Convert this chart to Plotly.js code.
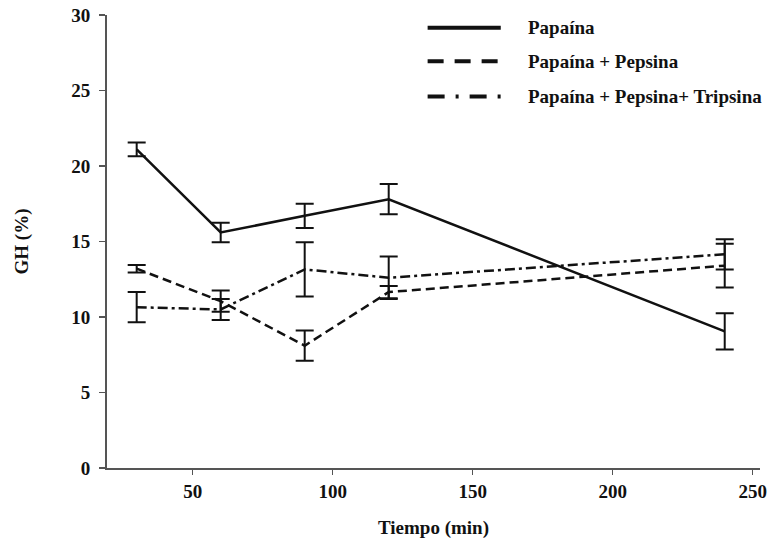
<!DOCTYPE html>
<html>
<head>
<meta charset="utf-8">
<script src="https://cdn.plot.ly/plotly-3.0.1.min.js"></script>
<style>html,body{margin:0;padding:0;background:#fff}#chart{width:772px;height:542px}</style>
</head>
<body>
<div id="chart"></div>
<script>
// Data
var tiempo = [30, 60, 90, 120, 240];
var papaina = [21.1, 15.6, 16.7, 17.8, 9.05];
var papainaErr = [0.45, 0.65, 0.8, 1.0, 1.2];
var papPep = [13.2, 11.05, 8.1, 11.65, 13.4];
var papPepErr = [0.25, 0.7, 1.0, 0.4, 1.45];
var papPepTrip = [10.65, 10.5, 13.15, 12.6, 14.15];
var papPepTripErr = [1.0, 0.7, 1.8, 1.4, 1.0];
var seriesNames = ['Papaína', 'Papaína + Pepsina', 'Papaína + Pepsina+ Tripsina'];
var yTicks = [0, 5, 10, 15, 20, 25, 30];
var xTicks = [50, 100, 150, 200, 250];

var fontFam = '"Liberation Serif", "Times New Roman", serif';

function mk(y, err, dash, name) {
  return {
    x: tiempo, y: y, name: name, type: 'scatter', mode: 'lines',
    line: {color: '#111', width: 2.5, dash: dash},
    error_y: {type: 'data', array: err, visible: true, color: '#111', thickness: 2, width: 9},
    showlegend: false
  };
}

var traces = [
  mk(papaina, papainaErr, 'solid', seriesNames[0]),
  mk(papPep, papPepErr, '9px,5px', seriesNames[1]),
  mk(papPepTrip, papPepTripErr, '10px,4px,3px,4px', seriesNames[2])
];

// Manual legend (lines + text)
var legY = [0.972, 0.898, 0.820];
var legDash = ['solid', '16px,11px', '17px,11px,3px,11px'];
var shapes = [];
var annotations = [];
for (var i = 0; i < 3; i++) {
  shapes.push({type: 'line', xref: 'paper', yref: 'paper', x0: 0.491, x1: 0.603, y0: legY[i], y1: legY[i],
    line: {color: '#111', width: 4, dash: legDash[i]}});
  annotations.push({xref: 'paper', yref: 'paper', x: 0.642, y: legY[i], xanchor: 'left', yanchor: 'middle',
    text: seriesNames[i], showarrow: false, font: {family: fontFam, size: 19, color: '#111', weight: 'bold'}});
}

var layout = {
  width: 772, height: 542,
  margin: {l: 107, r: 12, t: 15, b: 74},
  paper_bgcolor: '#fff', plot_bgcolor: '#fff',
  font: {family: fontFam, size: 19, color: '#111', weight: 'bold'},
  xaxis: {
    range: [19.4, 252.6], tickvals: xTicks, ticks: 'outside', ticklen: 5, tickwidth: 1.5, tickcolor: '#555',
    showline: true, linecolor: '#555', linewidth: 2, showgrid: false, zeroline: false,
    tickfont: {family: fontFam, size: 19, color: '#111', weight: 'bold'},
    title: {text: 'Tiempo (min)', font: {family: fontFam, size: 19, color: '#111', weight: 'bold'}, standoff: 20}
  },
  yaxis: {
    range: [0, 30], tickvals: yTicks, ticks: 'outside', ticklen: 6, tickwidth: 1.5, tickcolor: '#555',
    ticklabelstandoff: 5,
    showline: true, linecolor: '#555', linewidth: 2, showgrid: false, zeroline: false,
    tickfont: {family: fontFam, size: 19, color: '#111', weight: 'bold'},
    title: {text: 'GH (%)', font: {family: fontFam, size: 19, color: '#111', weight: 'bold'}, standoff: 38}
  },
  shapes: shapes,
  annotations: annotations,
  showlegend: false
};

Plotly.newPlot('chart', traces, layout, {displayModeBar: false, staticPlot: true});
</script>
</body>
</html>
